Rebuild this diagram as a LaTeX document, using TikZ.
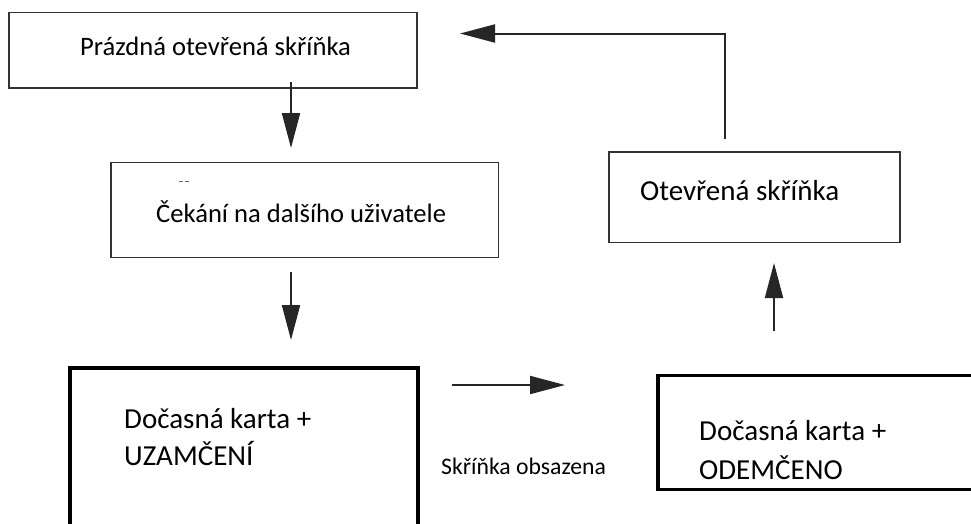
\documentclass[tikz,border=0pt]{standalone}
\usepackage{fontspec}
\setmainfont{Carlito}
\usetikzlibrary{arrows.meta}
\begin{document}
\begin{tikzpicture}[x=1pt,y=-1pt,
  thinbox/.style={draw=black!80, line width=1.8pt, inner sep=0pt, outer sep=0pt, anchor=north west, rectangle},
  thickbox/.style={draw=black, line width=3.6pt, inner sep=0pt, outer sep=0pt, anchor=north west, rectangle},
  arr/.style={draw=black!85, line width=2pt, -{Triangle[length=35pt,width=18pt]}},
  txt/.style={inner sep=0pt, anchor=base west, font=\fontsize{26.6}{32}\selectfont},
  bigtxt/.style={inner sep=0pt, anchor=base west, font=\fontsize{29}{35}\selectfont},
  smalltxt/.style={inner sep=0pt, anchor=base west, font=\fontsize{23.7}{28}\selectfont},
]
\useasboundingbox (0,0) rectangle (971,523);
\clip (0,0) rectangle (971,523);
\fill[white] (0,0) rectangle (971,523);

% boxes
\node[thinbox, minimum width=408pt, minimum height=75.5pt] (b1) at (9,12.5) {};
\node[thinbox, minimum width=387.5pt, minimum height=95pt] (b2) at (111,162.5) {};
\node[thinbox, minimum width=291pt, minimum height=90.5pt] (b3) at (609,152) {};
\node[thickbox, minimum width=348pt, minimum height=200pt] (b4) at (70,368) {};
\node[thickbox, minimum width=420pt, minimum height=114pt] (b5) at (658,375.5) {};

% texts
\node[txt] (t1) at (80,55) {Prázdná otevřená skříňka};
\node[txt] (t2) at (156,222) {Čekání na dalšího uživatele};
\node[bigtxt] (t3) at (640,200) {Otevřená skříňka};
\node[bigtxt] (t4a) at (124,428) {Dočasná karta +};
\node[bigtxt] (t4b) at (124,465) {UZAMČENÍ};
\node[bigtxt] (t5a) at (699,440) {Dočasná karta +};
\node[bigtxt] (t5b) at (699,479) {ODEMČENO};
\node[smalltxt] (lab) at (441,474) {Skříňka obsazena};

% small mark
\coordinate (m1) at (179,181.5);
\coordinate (m2) at (190,181.5);
\draw[black!60, line width=0.8pt, dash pattern=on 4pt off 1.5pt] (m1) -- (m2);

% connector coordinates
\coordinate (a1s) at (291,82);
\coordinate (a1e) at (291,148);
\coordinate (a2s) at (291,272);
\coordinate (a2e) at (291,340);
\coordinate (a3s) at (452,385);
\coordinate (a3e) at (565,385);
\coordinate (a4s) at (774,331);
\coordinate (a4e) at (774,263);
\coordinate (a5s) at (725,139);
\coordinate (a5c) at (725,33.5);
\coordinate (a5e) at (460,33.5);

\draw[arr] (a1s) -- (a1e);
\draw[arr] (a2s) -- (a2e);
\draw[arr] (a3s) -- (a3e);
\draw[arr] (a4s) -- (a4e);
\draw[arr] (a5s) -- (a5c) -- (a5e);
\end{tikzpicture}
\end{document}
